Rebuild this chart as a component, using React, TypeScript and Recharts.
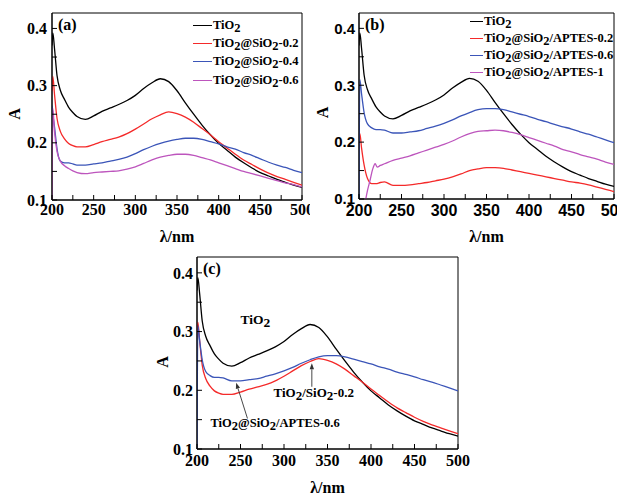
import React from "react";
import {
  Label,
  Legend,
  Line,
  LineChart,
  ReferenceArea,
  ReferenceDot,
  ReferenceLine,
  XAxis,
  YAxis,
} from "recharts";

// UV-vis absorbance spectra, 200–500 nm, three panels:
// (a) TiO2 vs SiO2-coated, (b) TiO2 vs APTES-modified, (c) comparison.

const WL = [
  200, 201, 203, 206, 210, 215, 220, 225, 230, 240, 250, 260, 270, 280, 290,
  300, 310, 320, 330, 340, 350, 360, 370, 380, 390, 400, 410, 420, 430, 440,
  450, 460, 470, 480, 490, 500,
];

const TIO2 = [
  0.37, 0.392, 0.365, 0.318, 0.292, 0.276, 0.262, 0.253, 0.246, 0.241, 0.247,
  0.255, 0.261, 0.267, 0.274, 0.283, 0.295, 0.305, 0.312, 0.307, 0.291, 0.27,
  0.25, 0.231, 0.214, 0.199, 0.187, 0.175, 0.165, 0.156, 0.148, 0.142, 0.136,
  0.131, 0.126, 0.122,
];

const SIO2_02 = [
  0.29, 0.316, 0.285, 0.243, 0.22, 0.207, 0.199, 0.195, 0.193, 0.193, 0.197,
  0.202, 0.206, 0.21, 0.216, 0.224, 0.233, 0.242, 0.249, 0.254, 0.251, 0.245,
  0.236, 0.225, 0.214, 0.202, 0.191, 0.18, 0.17, 0.162, 0.154, 0.147, 0.141,
  0.136, 0.131, 0.126,
];

const SIO2_04 = [
  0.265, 0.25, 0.228, 0.19, 0.168, 0.165, 0.165, 0.163, 0.161, 0.161, 0.163,
  0.165, 0.168, 0.171, 0.175, 0.181, 0.188, 0.194, 0.199, 0.203, 0.206, 0.208,
  0.208, 0.206, 0.202, 0.198, 0.193, 0.189, 0.183, 0.178, 0.172, 0.166, 0.161,
  0.157, 0.152, 0.148,
];

const SIO2_06 = [
  0.1, 0.26, 0.22, 0.185, 0.168, 0.16, 0.155, 0.151, 0.148, 0.146, 0.148,
  0.149, 0.15, 0.151, 0.154, 0.158, 0.164, 0.17, 0.175, 0.178, 0.18, 0.18,
  0.178, 0.174, 0.17, 0.165, 0.16, 0.155, 0.15, 0.146, 0.142, 0.138, 0.134,
  0.13, 0.127, 0.123,
];

const APTES_02 = [
  0.21, 0.215, 0.19, 0.16, 0.136, 0.127, 0.127, 0.129, 0.13, 0.124, 0.124,
  0.125, 0.127, 0.129, 0.132, 0.135, 0.139, 0.144, 0.15, 0.153, 0.155, 0.155,
  0.154, 0.151, 0.148, 0.145, 0.142, 0.139, 0.136, 0.133, 0.13, 0.128, 0.125,
  0.121, 0.117, 0.113,
];

const APTES_06 = [
  0.1, 0.31, 0.285, 0.252, 0.232, 0.225, 0.222, 0.222, 0.221, 0.216, 0.216,
  0.218, 0.22, 0.224, 0.228, 0.233, 0.239, 0.246, 0.252, 0.257, 0.259, 0.259,
  0.257, 0.253, 0.249, 0.245, 0.24, 0.236, 0.231, 0.227, 0.223, 0.218, 0.214,
  0.209, 0.204, 0.199,
];

// APTES-1 rises out of the baseline a little later, with a kink near 220 nm
const WL_APTES_1 = [
  208, 210, 213, 216, 219, 221.5, 225, 230, 240, 250, 260, 270, 280, 290, 300,
  310, 320, 330, 340, 350, 360, 370, 380, 390, 400, 410, 420, 430, 440, 450,
  460, 470, 480, 490, 500,
];
const APTES_1 = [
  0.1, 0.115, 0.133, 0.152, 0.162, 0.156, 0.159, 0.162, 0.168, 0.172, 0.176,
  0.181, 0.186, 0.191, 0.196, 0.202, 0.209, 0.215, 0.219, 0.22, 0.221, 0.22,
  0.217, 0.213, 0.208, 0.203, 0.198, 0.193, 0.187, 0.183, 0.178, 0.174, 0.17,
  0.165, 0.161,
];

const X_TICKS = [200, 225, 250, 275, 300, 325, 350, 375, 400, 425, 450, 475, 500];
const X_LABELED = [200, 250, 300, 350, 400, 450, 500];
const Y_TICKS = [0.1, 0.15, 0.2, 0.25, 0.3, 0.35, 0.4];
const Y_LABELED = [0.1, 0.2, 0.3, 0.4];
const Y_TOP = 0.427;

const SERIF = '"Liberation Serif", "Times New Roman", serif';
const SANS = '"Liberation Sans", Arial, sans-serif';
const C = {
  ink: "#000000",
  red: "#f42a2a",
  blue: "#3b55b8",
  violet: "#bd55bd",
  arrow: "#333333",
};

type Pt = { x: number; y: number };
type Series = { name: string; color: string; data: Pt[] };

const pts = (xs: number[], ys: number[]): Pt[] =>
  xs.map((x, i) => ({ x, y: ys[i] }));

const SERIES_A: Series[] = [
  { name: "TiO2", color: C.ink, data: pts(WL, TIO2) },
  { name: "TiO2@SiO2-0.2", color: C.red, data: pts(WL, SIO2_02) },
  { name: "TiO2@SiO2-0.4", color: C.blue, data: pts(WL, SIO2_04) },
  { name: "TiO2@SiO2-0.6", color: C.violet, data: pts(WL, SIO2_06) },
];

const SERIES_B: Series[] = [
  { name: "TiO2", color: C.ink, data: pts(WL, TIO2) },
  { name: "TiO2@SiO2/APTES-0.2", color: C.red, data: pts(WL, APTES_02) },
  { name: "TiO2@SiO2/APTES-0.6", color: C.blue, data: pts(WL, APTES_06) },
  { name: "TiO2@SiO2/APTES-1", color: C.violet, data: pts(WL_APTES_1, APTES_1) },
];

const SERIES_C: Series[] = [
  { name: "TiO2", color: C.ink, data: pts(WL, TIO2) },
  { name: "TiO2/SiO2-0.2", color: C.red, data: pts(WL, SIO2_02) },
  { name: "TiO2@SiO2/APTES-0.6", color: C.blue, data: pts(WL, APTES_06) },
];

const SUB_DY = 3;

// "TiO2" with the 2 dropped below the baseline, as SVG tspans
function chemSvg(s: string) {
  const parts = s.split("O2");
  const out: React.ReactNode[] = [];
  parts.forEach((p, i) => {
    const last = i === parts.length - 1;
    out.push(
      <tspan key={`p${i}`} dy={i > 0 ? -SUB_DY : 0}>
        {last ? p : p + "O"}
      </tspan>,
    );
    if (!last)
      out.push(
        <tspan key={`s${i}`} dy={SUB_DY}>
          2
        </tspan>,
      );
  });
  return out;
}

function chemHtml(s: string) {
  const parts = s.split("O2");
  return parts.map((p, i) => (
    <React.Fragment key={i}>
      {i === parts.length - 1 ? p : p + "O"}
      {i < parts.length - 1 && (
        <span style={{ position: "relative", top: SUB_DY }}>2</span>
      )}
    </React.Fragment>
  ));
}

const isMajor = (v: number, majors: number[]) =>
  majors.some((m) => Math.abs(m - v) < 1e-9);

const titleStyle = {
  fontFamily: SERIF,
  fontWeight: 700,
  fontSize: 16,
  fill: C.ink,
};

const legendContent =
  (rowH: number, lineW: number) =>
  ({ payload }: { payload?: Array<{ value?: string; color?: string }> }) => (
    <div
      style={{
        fontFamily: SERIF,
        fontWeight: 700,
        fontSize: 12.5,
        color: C.ink,
        whiteSpace: "nowrap",
      }}
    >
      {(payload ?? []).map((e) => (
        <div
          key={e.value}
          style={{ display: "flex", alignItems: "center", height: rowH }}
        >
          <span
            style={{
              display: "inline-block",
              width: lineW,
              borderTop: `1.3px solid ${e.color}`,
              marginRight: 1,
            }}
          />
          <span>{chemHtml(String(e.value))}</span>
        </div>
      ))}
    </div>
  );

function ArrowShape(props: any) {
  const { x1, y1, x2, y2 } = props;
  if ([x1, y1, x2, y2].some((v) => typeof v !== "number")) return <g />;
  const a = Math.atan2(y2 - y1, x2 - x1);
  const L = 6;
  const W = 2.2;
  const bx = x2 - L * Math.cos(a);
  const by = y2 - L * Math.sin(a);
  const px = -Math.sin(a) * W;
  const py = Math.cos(a) * W;
  return (
    <g>
      <line x1={x1} y1={y1} x2={bx} y2={by} stroke={C.arrow} strokeWidth={0.9} />
      <polygon
        points={`${x2},${y2} ${bx + px},${by + py} ${bx - px},${by - py}`}
        fill={C.arrow}
      />
    </g>
  );
}

const chemLabel = (size: number) =>
  function ChemDot(props: any) {
    const { cx, cy, text } = props;
    if (cx == null || cy == null) return <g />;
    return (
      <text
        x={cx}
        y={cy}
        fontFamily={SERIF}
        fontWeight={700}
        fontSize={size}
        fill={C.ink}
      >
        {chemSvg(text)}
      </text>
    );
  };

type PanelProps = {
  left: number;
  top: number;
  width: number;
  height: number;
  margin: { top: number; right: number; left: number; bottom: number };
  yWidth: number;
  xHeight: number;
  series: Series[];
  tag: string;
  xTick: Record<string, unknown>;
  yTick: Record<string, unknown>;
  xMargin: number;
  yMargin: number;
  aTitle: { dx: number; dy: number };
  xTitleDy: number;
  legend?: { left: number; top: number; rowH: number; lineW: number };
  extras?: React.ReactNode[];
};

function Panel(p: PanelProps) {
  return (
    <div style={{ position: "absolute", left: p.left, top: p.top }}>
      <LineChart width={p.width} height={p.height} margin={p.margin}>
        <XAxis
          type="number"
          dataKey="x"
          domain={[200, 500]}
          ticks={X_TICKS}
          interval={0}
          allowDataOverflow
          tickFormatter={(v: number) => (isMajor(v, X_LABELED) ? String(v) : "")}
          tick={{ fill: C.ink, ...p.xTick }}
          tickSize={-5}
          tickMargin={p.xMargin}
          tickLine={{ stroke: C.ink }}
          axisLine={{ stroke: C.ink }}
          height={p.xHeight}
        >
          <Label
            content={({ viewBox }: any) => (
              <text
                x={viewBox.x + viewBox.width / 2}
                y={viewBox.y + p.xTitleDy}
                textAnchor="middle"
                style={titleStyle}
              >
                λ/nm
              </text>
            )}
          />
        </XAxis>
        <YAxis
          type="number"
          domain={[0.1, Y_TOP]}
          ticks={Y_TICKS}
          interval={0}
          allowDataOverflow
          tickFormatter={(v: number) =>
            isMajor(v, Y_LABELED) ? v.toFixed(1) : ""
          }
          tick={{ fill: C.ink, ...p.yTick }}
          tickSize={-5}
          tickMargin={p.yMargin}
          tickLine={{ stroke: C.ink }}
          axisLine={{ stroke: C.ink }}
          width={p.yWidth}
        >
          <Label
            content={({ viewBox }: any) => {
              const x = viewBox.x + p.aTitle.dx;
              const y = viewBox.y + viewBox.height / 2 + p.aTitle.dy;
              return (
                <text
                  x={x}
                  y={y}
                  transform={`rotate(-90 ${x} ${y})`}
                  textAnchor="middle"
                  dominantBaseline="central"
                  style={titleStyle}
                >
                  A
                </text>
              );
            }}
          />
        </YAxis>
        <ReferenceArea
          x1={200}
          x2={500}
          y1={0.1}
          y2={Y_TOP}
          fill="none"
          stroke={C.ink}
          strokeWidth={1}
          label={({ viewBox }: any) => (
            <text x={viewBox.x + 6} y={viewBox.y + 17} style={titleStyle}>
              {p.tag}
            </text>
          )}
        />
        {p.series.map((s) => (
          <Line
            key={s.name}
            data={s.data}
            dataKey="y"
            name={s.name}
            type="monotone"
            stroke={s.color}
            strokeWidth={1.3}
            dot={false}
            activeDot={false}
            isAnimationActive={false}
          />
        ))}
        {p.extras}
        {p.legend && (
          <Legend
            layout="vertical"
            align="center"
            verticalAlign="middle"
            wrapperStyle={{
              left: p.legend.left,
              top: p.legend.top,
              width: "auto",
              height: "auto",
            }}
            content={legendContent(p.legend.rowH, p.legend.lineW) as any}
          />
        )}
      </LineChart>
    </div>
  );
}

const serifTick = { fontFamily: SERIF, fontWeight: 700, fontSize: 16 };

const EXTRAS_C = [
  <ReferenceDot
    key="t-tio2"
    x={250}
    y={0.313}
    r={0}
    shape={(props: any) => chemLabel(13.5)({ ...props, text: "TiO2" })}
  />,
  <ReferenceDot
    key="t-sio2"
    x={288}
    y={0.189}
    r={0}
    shape={(props: any) => chemLabel(13)({ ...props, text: "TiO2/SiO2-0.2" })}
  />,
  <ReferenceDot
    key="t-aptes"
    x={215.5}
    y={0.137}
    r={0}
    shape={(props: any) =>
      chemLabel(12.5)({ ...props, text: "TiO2@SiO2/APTES-0.6" })
    }
  />,
  <ReferenceLine
    key="a-sio2"
    segment={[
      { x: 332, y: 0.206 },
      { x: 332, y: 0.246 },
    ]}
    shape={ArrowShape}
  />,
  <ReferenceLine
    key="a-aptes"
    segment={[
      { x: 258, y: 0.152 },
      { x: 245, y: 0.213 },
    ]}
    shape={ArrowShape}
  />,
];

export default function App() {
  return (
    <div
      style={{
        position: "fixed",
        left: 0,
        top: 0,
        width: 617,
        height: 496,
        overflow: "hidden",
        background: "#ffffff",
      }}
    >
      <Panel
        left={0}
        top={0}
        width={310}
        height={250}
        margin={{ top: 13, right: 8, left: 0, bottom: 0 }}
        yWidth={52}
        xHeight={50}
        series={SERIES_A}
        tag="(a)"
        xTick={serifTick}
        yTick={serifTick}
        xMargin={9}
        yMargin={10}
        aTitle={{ dx: 14, dy: 7.5 }}
        xTitleDy={42}
        legend={{ left: 193, top: 16, rowH: 18.3, lineW: 19 }}
      />
      <Panel
        left={300}
        top={0}
        width={317}
        height={250}
        margin={{ top: 13, right: 3, left: 0, bottom: 0 }}
        yWidth={59}
        xHeight={51}
        series={SERIES_B}
        tag="(b)"
        xTick={{ fontFamily: SANS, fontWeight: 700, fontSize: 16 }}
        yTick={{ fontFamily: SANS, fontWeight: 700, fontSize: 15 }}
        xMargin={11}
        yMargin={9}
        aTitle={{ dx: 22, dy: 6.5 }}
        xTitleDy={43}
        legend={{ left: 170, top: 12.4, rowH: 17.3, lineW: 13 }}
      />
      <Panel
        left={140}
        top={245}
        width={330}
        height={251}
        margin={{ top: 12, right: 12, left: 0, bottom: 0 }}
        yWidth={57}
        xHeight={47}
        series={SERIES_C}
        tag="(c)"
        xTick={serifTick}
        yTick={serifTick}
        xMargin={11}
        yMargin={9}
        aTitle={{ dx: 22.5, dy: 9 }}
        xTitleDy={44}
        extras={EXTRAS_C}
      />
    </div>
  );
}
